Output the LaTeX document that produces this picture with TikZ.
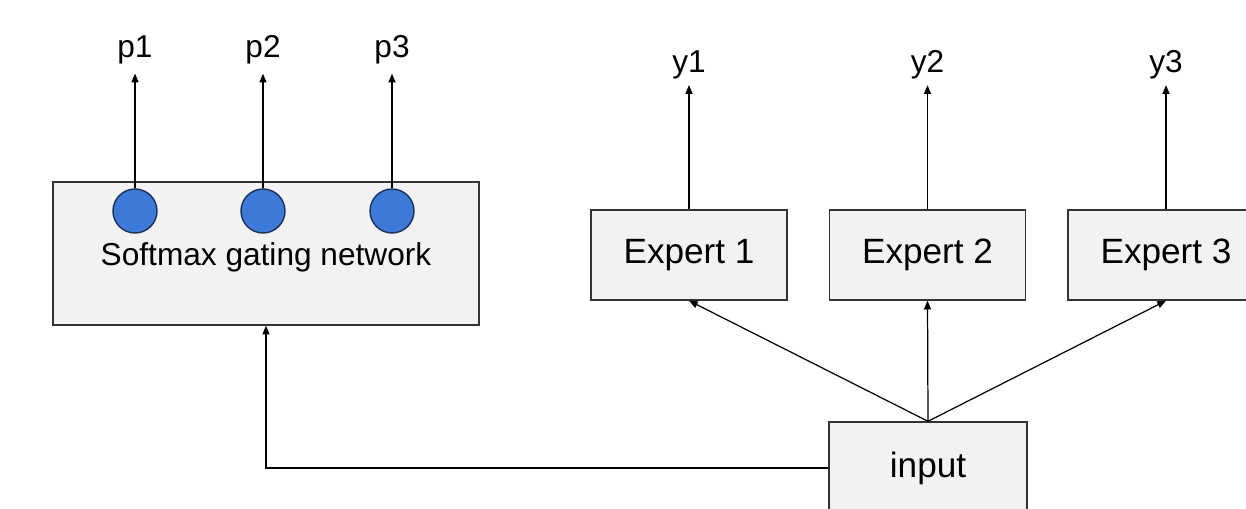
\documentclass[tikz,border=0pt]{standalone}
\usepackage{fontspec}
\setmainfont{Liberation Sans}
\usetikzlibrary{arrows.meta}

\definecolor{boxgray}{RGB}{242,242,242}
\definecolor{dotblue}{RGB}{61,121,216}
\definecolor{dotrim}{RGB}{28,48,88}

\tikzset{
	block/.style={draw=black!80,fill=boxgray,line width=0.8pt,minimum width=3.92cm,minimum height=1.8cm,font=\fontsize{20}{24}\selectfont},
	gatedot/.style={circle,draw=dotrim,fill=dotblue,line width=0.8pt,minimum size=0.88cm,inner sep=0pt},
	lbl/.style={inner sep=0pt,font=\fontsize{18}{22}\selectfont},
	conn/.style={line width=0.7pt,-{Triangle[width=4pt,length=5pt]}}
}

\begin{document}
\begin{tikzpicture}
		\useasboundingbox[fill=white] (0,0) rectangle (24.92,10.16);

		% gating network with its three outputs
		\node[block,minimum width=8.52cm,minimum height=2.86cm] (softmax) at (5.32,5.09) {};
		\node[lbl] (gatename) at (5.32,5.02) {Softmax gating network};
		\foreach \i/\x in {1/2.70,2/5.26,3/7.84} {
			\node[gatedot] (g\i) at (\x,5.94) {};
			\node[lbl] (p\i) at (\x,9.16) {p\i};
			\draw[conn,shorten >=0.18cm] (g\i) -- (p\i.south);
		}

		% experts
		\node[block,minimum width=3.96cm,minimum height=1.84cm] (input) at (18.56,0.80) {input};
		\foreach \i/\x in {1/13.78,2/18.55,3/23.32} {
			\node[block] (expert\i) at (\x,5.06) {Expert \i};
			\node[lbl] (y\i) at (\x,8.87) {y\i};
			\draw[conn,shorten >=0.12cm] (expert\i) -- (y\i.south);
			\draw[conn] (input.north) -- (expert\i.south);
		}

		\draw[conn] (input.west) -| (softmax.south);
	\end{tikzpicture}
\end{document}
